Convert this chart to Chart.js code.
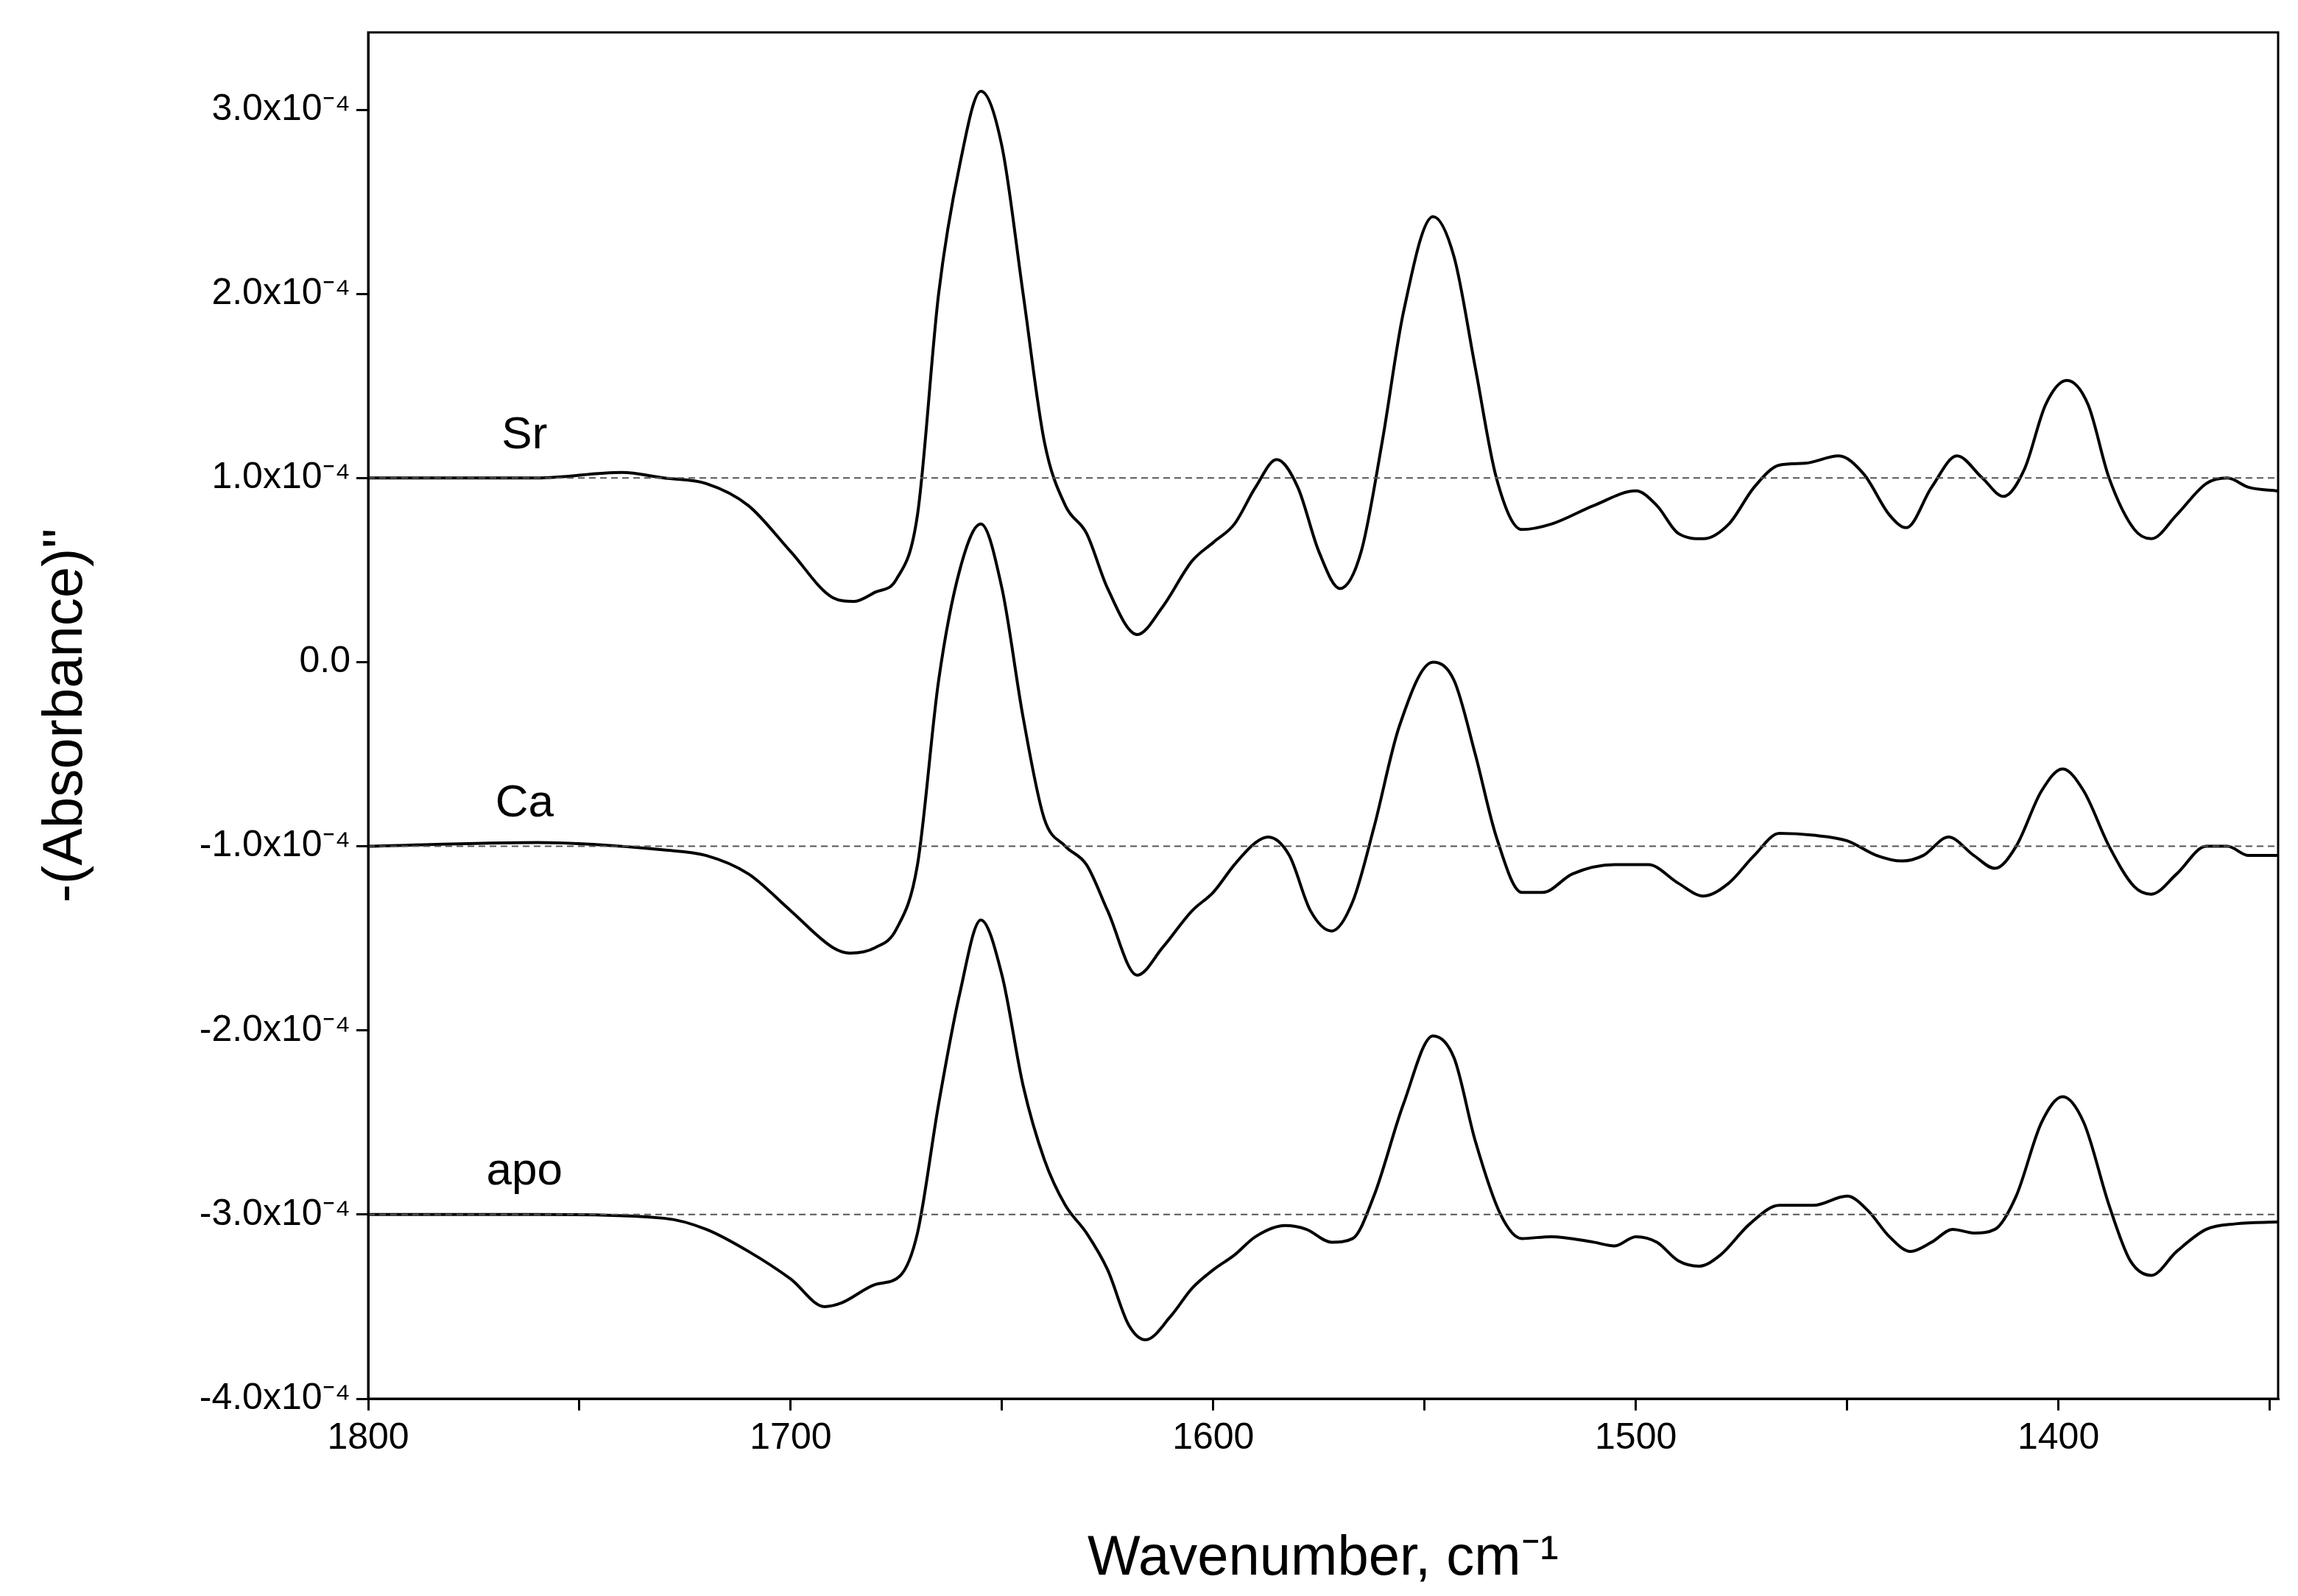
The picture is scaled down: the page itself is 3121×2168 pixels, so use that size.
<!DOCTYPE html>
<html><head><meta charset="utf-8">
<script src="https://cdn.jsdelivr.net/npm/chart.js@4"></script>
<style>html,body{margin:0;padding:0;background:#fff}#w{width:3121px;height:2168px}</style>
</head><body><div id="w"><canvas id="c"></canvas></div>
<script>
// values in units of 1e-4
const srX=[1800,1760,1740,1730,1720,1710,1700,1690,1685,1680,1675,1670,1665,1660,1655,1650,1645,1640,1635,1630,1625,1618,1612,1605,1600,1595,1590,1585,1580,1575,1570,1565,1560,1555,1548,1543,1538,1533,1527,1520,1510,1500,1495,1490,1484,1478,1472,1466,1460,1452,1446,1440,1436,1430,1424,1418,1413,1408,1403,1398,1393,1388,1382,1378,1372,1365,1360,1355,1348];
const srY=[1.0,1.0,1.03,1.0,0.97,0.85,0.6,0.35,0.33,0.38,0.45,0.8,2.0,2.7,3.1,2.8,2.0,1.2,0.85,0.7,0.4,0.15,0.3,0.55,0.65,0.75,0.95,1.1,0.95,0.6,0.4,0.6,1.2,1.9,2.42,2.2,1.6,1.0,0.72,0.75,0.85,0.93,0.85,0.7,0.67,0.75,0.95,1.07,1.08,1.12,1.02,0.8,0.73,0.95,1.12,1.0,0.9,1.05,1.4,1.53,1.4,1.0,0.72,0.67,0.8,0.97,1.0,0.95,0.93];
const caX=[1800,1760,1730,1720,1710,1700,1690,1686,1680,1675,1670,1665,1660,1655,1650,1645,1640,1635,1630,1625,1618,1612,1605,1600,1595,1590,1587,1582,1577,1572,1567,1562,1556,1548,1543,1538,1533,1527,1522,1515,1505,1497,1490,1484,1478,1472,1466,1458,1450,1443,1437,1432,1426,1420,1415,1410,1404,1399,1394,1388,1382,1378,1372,1365,1360,1355,1348];
const caY=[-1.0,-0.98,-1.02,-1.05,-1.15,-1.35,-1.55,-1.58,-1.55,-1.45,-1.1,-0.1,0.5,0.75,0.4,-0.3,-0.85,-1.0,-1.1,-1.35,-1.7,-1.55,-1.35,-1.25,-1.1,-0.98,-0.95,-1.05,-1.35,-1.46,-1.3,-0.9,-0.35,0.0,-0.1,-0.5,-0.95,-1.25,-1.25,-1.15,-1.1,-1.1,-1.2,-1.27,-1.2,-1.05,-0.93,-0.94,-0.97,-1.05,-1.08,-1.05,-0.95,-1.05,-1.12,-1.0,-0.7,-0.58,-0.7,-1.0,-1.22,-1.26,-1.15,-1.0,-1.0,-1.05,-1.05];
const apoX=[1800,1760,1730,1720,1710,1700,1692,1688,1680,1674,1670,1665,1660,1655,1650,1645,1640,1635,1630,1625,1620,1616,1610,1605,1600,1595,1590,1583,1578,1572,1567,1562,1555,1548,1543,1538,1532,1527,1520,1510,1505,1500,1495,1490,1485,1480,1473,1466,1458,1450,1445,1440,1435,1430,1425,1420,1415,1410,1404,1399,1394,1388,1383,1378,1372,1365,1358,1348];
const apoY=[-3.0,-3.0,-3.02,-3.08,-3.2,-3.35,-3.5,-3.48,-3.38,-3.33,-3.1,-2.4,-1.8,-1.4,-1.7,-2.3,-2.7,-2.95,-3.1,-3.3,-3.6,-3.68,-3.55,-3.4,-3.3,-3.22,-3.12,-3.06,-3.08,-3.15,-3.13,-2.9,-2.4,-2.03,-2.15,-2.6,-3.0,-3.13,-3.12,-3.15,-3.17,-3.12,-3.15,-3.25,-3.28,-3.22,-3.05,-2.95,-2.95,-2.9,-2.98,-3.12,-3.2,-3.15,-3.08,-3.1,-3.08,-2.9,-2.5,-2.36,-2.5,-2.95,-3.25,-3.33,-3.2,-3.08,-3.05,-3.04];
const seriesNames=['Sr','Ca','apo'];
const baselines=[1,-1,-3];
const yTickLabels={'3':'3.0x10⁻⁴','2':'2.0x10⁻⁴','1':'1.0x10⁻⁴','0':'0.0','-1':'-1.0x10⁻⁴','-2':'-2.0x10⁻⁴','-3':'-3.0x10⁻⁴','-4':'-4.0x10⁻⁴'};

const pts=(xs,ys)=>xs.map((x,i)=>({x,y:ys[i]}));
const line=(d)=>({data:d,borderColor:'#000',borderWidth:4,pointRadius:0,cubicInterpolationMode:'monotone',fill:false});
const dash=(v)=>({data:[{x:1800,y:v},{x:1348,y:v}],borderColor:'#555',borderWidth:2,borderDash:[9,6],pointRadius:0});

const deco={id:'deco',afterDatasetsDraw(ch){
  const {ctx,chartArea:a,scales}=ch;
  ctx.save();ctx.strokeStyle='#000';ctx.lineWidth=3;ctx.strokeRect(a.left,a.top,a.right-a.left,a.bottom-a.top);
  ctx.fillStyle='#000';ctx.font='62px Arial, "Liberation Sans"';ctx.textAlign='center';ctx.textBaseline='middle';
  seriesNames.forEach((n,i)=>ctx.fillText(n,scales.x.getPixelForValue(1763),scales.y.getPixelForValue(baselines[i]+0.23)));
  ctx.restore();}};

new Chart(document.getElementById('c'),{type:'line',
 data:{datasets:[dash(1),dash(-1),dash(-3),line(pts(srX,srY)),line(pts(caX,caY)),line(pts(apoX,apoY))]},
 options:{responsive:true,maintainAspectRatio:false,animation:false,
  layout:{padding:{top:44,right:27,left:40,bottom:0}},
  plugins:{legend:{display:false},tooltip:{enabled:false}},
  scales:{
   x:{type:'linear',reverse:true,min:1348,max:1800,
     afterBuildTicks:s=>{s.ticks=[];for(let v=1800;v>=1350;v-=50)s.ticks.push({value:v});},
     afterFit:s=>{s.height=268;},
     grid:{drawOnChartArea:false,color:'#000',tickLength:16,lineWidth:3},border:{color:'#000',width:3},
     ticks:{color:'#000',font:{size:50,family:'Arial, "Liberation Sans"'},maxRotation:0,autoSkip:false,padding:8,callback:v=>v%100===0?String(v):''},
     title:{display:true,text:'Wavenumber, cm⁻¹',color:'#000',font:{size:76,family:'Arial, "Liberation Sans"'},padding:{top:0}}},
   y:{min:-4,max:3.42,
     afterBuildTicks:s=>{s.ticks=[];for(let v=-4;v<=3;v++)s.ticks.push({value:v});},
     afterFit:s=>{s.width=460;},
     grid:{drawOnChartArea:false,color:'#000',tickLength:16,lineWidth:3},border:{color:'#000',width:3},
     ticks:{color:'#000',font:{size:50,family:'Arial, "Liberation Sans"'},padding:8,callback:v=>yTickLabels[String(v)]},
     title:{display:true,text:'-(Absorbance)"',color:'#000',font:{size:76,family:'Arial, "Liberation Sans"'},padding:{bottom:10}}}
  }},plugins:[deco]});
</script></body></html>
